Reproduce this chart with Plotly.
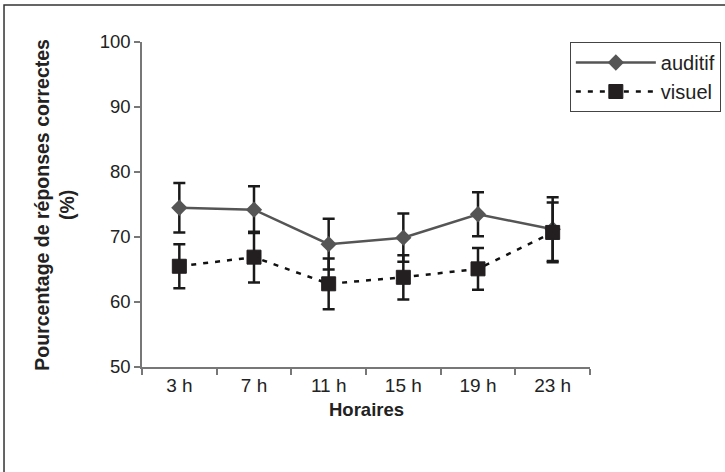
import plotly.graph_objects as go

categories = ["3 h", "7 h", "11 h", "15 h", "19 h", "23 h"]
auditif = [74.5, 74.2, 68.9, 69.9, 73.5, 71.2]
auditif_err = [3.8, 3.6, 3.9, 3.7, 3.4, 4.9]
visuel = [65.5, 66.9, 62.8, 63.8, 65.1, 70.7]
visuel_err = [3.4, 3.9, 3.9, 3.4, 3.2, 4.6]
y_ticks = [50, 60, 70, 80, 90, 100]

FONT = "Liberation Sans, Arial, sans-serif"

fig = go.Figure()
fig.add_trace(go.Scatter(
    x=categories, y=auditif, name="auditif", mode="lines+markers",
    line=dict(color="#555555", width=2.5),
    marker=dict(symbol="diamond", size=12.5, color="#555555"),
    error_y=dict(type="data", array=auditif_err, visible=True,
                 color="#1a1a1a", thickness=2.5, width=6),
))
fig.add_trace(go.Scatter(
    x=categories, y=visuel, name="visuel", mode="lines+markers",
    line=dict(color="#111111", width=2.5, dash="5px,7px"),
    marker=dict(symbol="square", size=14, color="#231f20",
                line=dict(color="#231f20", width=1)),
    error_y=dict(type="data", array=visuel_err, visible=True,
                 color="#1a1a1a", thickness=2.5, width=6),
))

fig.update_layout(
    width=725, height=472,
    margin=dict(l=142, r=135, t=42, b=105, pad=0, autoexpand=False),
    paper_bgcolor="white", plot_bgcolor="white",
    font=dict(family=FONT, size=18, color="#222222"),
    showlegend=True,
    legend=dict(
        x=0.955, y=1.0, xanchor="left", yanchor="top",
        bordercolor="#444444", borderwidth=1, bgcolor="white",
        font=dict(family=FONT, size=20, color="#222222"),
        itemwidth=80, tracegroupgap=0,
    ),
    xaxis=dict(
        type="category", range=[-0.5, 5.5],
        showline=True, linecolor="#777777", linewidth=1.5,
        ticks="outside", tickson="boundaries", ticklen=6,
        tickcolor="#777777", tickwidth=1.5,
        showgrid=False, zeroline=False,
        tickfont=dict(family=FONT, size=19, color="#222222"),
    ),
    yaxis=dict(
        range=[50, 100], tickvals=y_ticks,
        showline=True, linecolor="#777777", linewidth=1.5,
        ticks="outside", ticklen=6, tickcolor="#777777", tickwidth=1.5,
        showgrid=False, zeroline=False,
        tickfont=dict(family=FONT, size=18.5, color="#222222"),
    ),
    annotations=[
        dict(text="<b>Horaires</b>", xref="paper", yref="paper",
             x=0.5, y=-0.132, xanchor="center", yanchor="middle",
             showarrow=False,
             font=dict(family=FONT, size=18.5, color="#222222")),
        dict(text="<b>Pourcentage de réponses correctes<br>(%)</b>",
             xref="paper", yref="paper", x=-0.196, y=0.5,
             xanchor="center", yanchor="middle",
             textangle=-90, showarrow=False,
             font=dict(family=FONT, size=19.5, color="#222222")),
    ],
    shapes=[
        dict(type="rect", xref="paper", yref="paper",
             x0=-0.308, x1=1.32, y0=-0.36, y1=1.114,
             line=dict(color="#333333", width=1.5), layer="below"),
    ],
)

fig.write_html("out.html", config={"displayModeBar": False},
               post_script="document.body.style.margin='0';")
